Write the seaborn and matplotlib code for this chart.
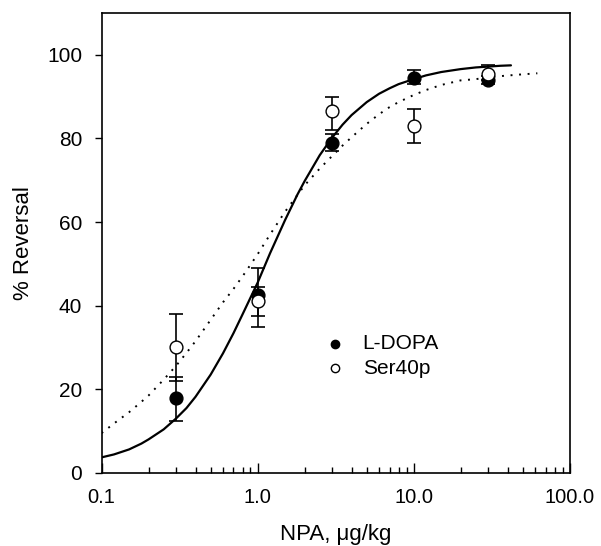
import numpy as np
import pandas as pd
import matplotlib
matplotlib.use("Agg")
import matplotlib.pyplot as plt
import seaborn as sns
from matplotlib.ticker import LogLocator, FixedLocator, FixedFormatter, NullFormatter

# ---- data ----
dose = [0.3, 1.0, 3.0, 10.0, 30.0]
ldopa_mean = [18.0, 42.5, 79.0, 94.5, 94.0]
ldopa_lo = [12.5, 37.5, 77.0, 93.0, 93.0]
ldopa_hi = [23.0, 44.5, 81.0, 96.5, 95.0]
ser_mean = [30.0, 41.0, 86.5, 83.0, 95.5]
ser_lo = [22.0, 35.0, 82.0, 79.0, 94.0]
ser_hi = [38.0, 49.0, 90.0, 87.0, 97.5]

fit_ldopa_x = [0.1, 0.12, 0.15, 0.18, 0.2, 0.25, 0.3, 0.35, 0.4, 0.5, 0.6, 0.7, 0.8,
               1.0, 1.2, 1.5, 1.8, 2.0, 2.5, 3.0, 3.5, 4.0, 5.0, 6.0, 7.0, 8.0,
               10.0, 12.0, 15.0, 20.0, 25.0, 30.0, 36.0, 42.0]
fit_ldopa_y = [3.7, 4.4, 5.6, 7.0, 8.0, 10.4, 13.0, 15.5, 18.2, 23.5, 28.6, 33.4, 37.9,
               45.5, 52.5, 60.5, 66.6, 69.8, 76.0, 80.2, 83.3, 85.6, 88.7, 90.7, 92.0, 93.0,
               94.2, 95.1, 95.9, 96.6, 97.0, 97.2, 97.4, 97.5]
fit_ser_x = [0.1, 0.12, 0.15, 0.18, 0.2, 0.25, 0.3, 0.35, 0.4, 0.5, 0.6, 0.7, 0.8,
             1.0, 1.2, 1.5, 1.8, 2.0, 2.5, 3.0, 3.5, 4.0, 5.0, 6.0, 7.0, 8.0,
             10.0, 12.0, 15.0, 20.0, 25.0, 30.0, 38.0, 48.0, 62.0]
fit_ser_y = [9.5, 11.8, 14.5, 17.0, 18.5, 22.3, 25.6, 28.7, 31.5, 36.6, 40.8, 44.0, 47.0,
             52.3, 57.0, 62.5, 66.5, 68.8, 72.8, 75.8, 78.3, 80.3, 83.5, 85.8, 87.5, 88.7,
             90.4, 91.6, 92.8, 93.9, 94.2, 94.6, 95.0, 95.3, 95.6]

xtick_vals = [0.1, 1.0, 10.0, 100.0]
xtick_labels = ["0.1", "1.0", "10.0", "100.0"]
ytick_vals = [0, 20, 40, 60, 80, 100]

sns.set_style("ticks")
plt.rcParams["font.family"] = ["Liberation Sans", "DejaVu Sans"]
plt.rcParams["text.color"] = "black"
plt.rcParams["axes.labelcolor"] = "black"
plt.rcParams["xtick.color"] = "black"
plt.rcParams["ytick.color"] = "black"

fig = plt.figure(figsize=(6.01, 5.46), dpi=100)
ax = fig.add_axes([0.169, 0.134, 0.779, 0.842])

df_l = pd.DataFrame({"x": fit_ldopa_x, "y": fit_ldopa_y})
df_s = pd.DataFrame({"x": fit_ser_x, "y": fit_ser_y})
sns.lineplot(data=df_l, x="x", y="y", ax=ax, color="black", lw=1.6, legend=False)
sns.lineplot(data=df_s, x="x", y="y", ax=ax, color="black", lw=1.4,
             linestyle=(0, (1, 3.4)), legend=False)

ld = np.array(ldopa_mean)
sm = np.array(ser_mean)
ax.errorbar(dose, ld, yerr=[ld - np.array(ldopa_lo), np.array(ldopa_hi) - ld],
            fmt="none", ecolor="black", elinewidth=1.2, capsize=5, capthick=1.2, zorder=3)
ax.errorbar(dose, sm, yerr=[sm - np.array(ser_lo), np.array(ser_hi) - sm],
            fmt="none", ecolor="black", elinewidth=1.2, capsize=5, capthick=1.2, zorder=3)

pts = pd.DataFrame({"x": dose * 2, "y": ldopa_mean + ser_mean,
                    "grp": ["L-DOPA"] * 5 + ["Ser40p"] * 5})
sns.scatterplot(data=pts[pts.grp == "L-DOPA"], x="x", y="y", ax=ax, s=85,
                color="black", edgecolor="black", linewidth=1.0, zorder=5, label="L-DOPA")
sns.scatterplot(data=pts[pts.grp == "Ser40p"], x="x", y="y", ax=ax, s=85,
                color="white", edgecolor="black", linewidth=1.0, zorder=5, label="Ser40p")

ax.set_xscale("log")
ax.set_xlim(0.1, 100)
ax.set_ylim(0, 110)
ax.xaxis.set_major_locator(FixedLocator(xtick_vals))
ax.xaxis.set_major_formatter(FixedFormatter(xtick_labels))
ax.xaxis.set_minor_locator(LogLocator(base=10, subs=np.arange(2, 10)))
ax.xaxis.set_minor_formatter(NullFormatter())
ax.set_yticks(ytick_vals)

ax.tick_params(axis="x", which="major", direction="in", length=7, width=1, labelsize=14.5, pad=11, top=False)
ax.tick_params(axis="x", which="minor", direction="in", length=4, width=1, top=False)
ax.tick_params(axis="y", which="major", direction="out", length=5, width=1, labelsize=15, pad=9, right=False)
ax.tick_params(axis="y", which="minor", left=False, right=False)

for s in ax.spines.values():
    s.set_visible(True)
    s.set_linewidth(1.2)
    s.set_color("black")

ax.set_xlabel("NPA, \u03bcg/kg", fontsize=16, labelpad=12)
ax.set_ylabel("% Reversal", fontsize=16, labelpad=9)

leg = ax.legend(loc="upper left", bbox_to_anchor=(0.413, 0.342), frameon=False,
                fontsize=15, handletextpad=0.35, labelspacing=0.25, markerscale=0.65)

fig.savefig("out.png", dpi=100)
